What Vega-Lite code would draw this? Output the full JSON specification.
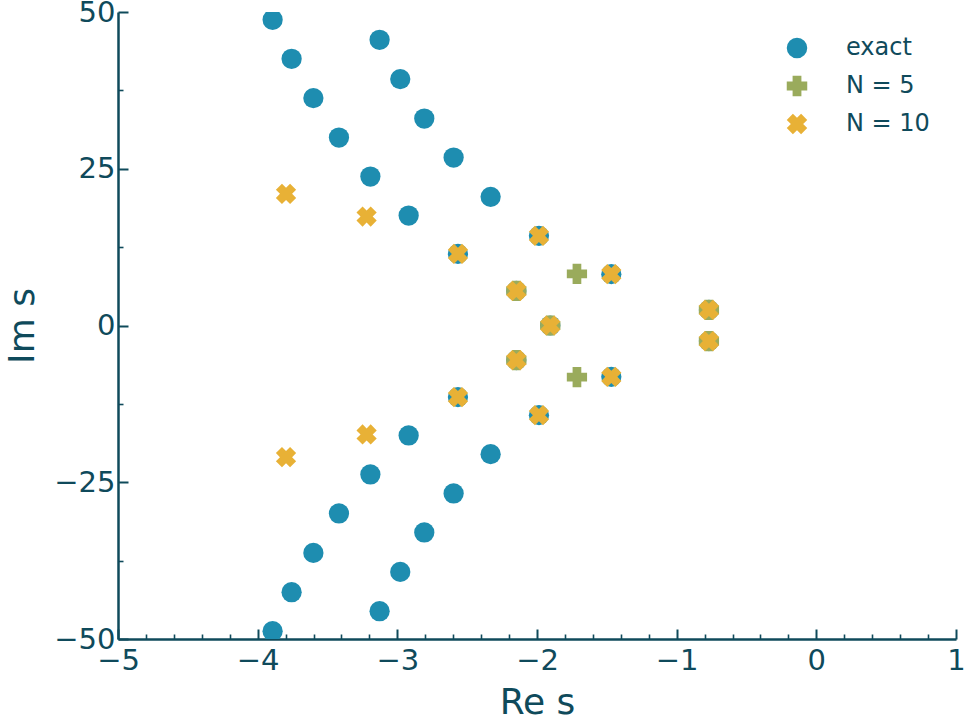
{
  "$schema": "https://vega.github.io/schema/vega-lite/v6.json",
  "width": 838,
  "height": 627,
  "autosize": {"type": "none"},
  "padding": {"left": 118, "top": 12, "right": 8, "bottom": 82},
  "background": "white",
  "config": {
    "view": {"stroke": null},
    "axis": {
      "grid": false,
      "domainColor": "#0f4a5b",
      "domainWidth": 2.5,
      "tickColor": "#0f4a5b",
      "tickWidth": 2,
      "labelFont": "DejaVu Sans",
      "labelFontSize": 29,
      "labelColor": "#0f4a5b",
      "labelFlush": false,
      "labelOverlap": false,
      "titleFont": "DejaVu Sans",
      "titleFontSize": 36,
      "titleFontWeight": "normal",
      "titleColor": "#0f4a5b"
    },
    "legend": {
      "orient": "none",
      "legendX": 667,
      "legendY": 24,
      "title": null,
      "padding": 0,
      "labelFont": "DejaVu Sans",
      "labelFontSize": 24,
      "labelColor": "#0f4a5b",
      "labelOffset": 37,
      "symbolSize": 420,
      "rowPadding": 14,
      "symbolStrokeWidth": 0,
      "symbolOpacity": 1
    }
  },
  "data": {
    "values": [
      {"series": "exact", "re": -3.893, "im": 48.76},
      {"series": "exact", "re": -3.757, "im": 42.54},
      {"series": "exact", "re": -3.601, "im": 36.27},
      {"series": "exact", "re": -3.418, "im": 29.98},
      {"series": "exact", "re": -3.193, "im": 23.76},
      {"series": "exact", "re": -2.919, "im": 17.54},
      {"series": "exact", "re": -2.566, "im": 11.42},
      {"series": "exact", "re": -2.148, "im": 5.52},
      {"series": "exact", "re": -1.905, "im": 0},
      {"series": "exact", "re": -2.148, "im": -5.52},
      {"series": "exact", "re": -2.566, "im": -11.42},
      {"series": "exact", "re": -2.919, "im": -17.54},
      {"series": "exact", "re": -3.193, "im": -23.76},
      {"series": "exact", "re": -3.418, "im": -29.98},
      {"series": "exact", "re": -3.601, "im": -36.27},
      {"series": "exact", "re": -3.757, "im": -42.54},
      {"series": "exact", "re": -3.893, "im": -48.76},
      {"series": "exact", "re": -3.258, "im": 51.8},
      {"series": "exact", "re": -3.127, "im": 45.57},
      {"series": "exact", "re": -2.979, "im": 39.3},
      {"series": "exact", "re": -2.807, "im": 33.01},
      {"series": "exact", "re": -2.597, "im": 26.79},
      {"series": "exact", "re": -2.332, "im": 20.52},
      {"series": "exact", "re": -1.986, "im": 14.3},
      {"series": "exact", "re": -1.468, "im": 8.19},
      {"series": "exact", "re": -0.769, "im": 2.49},
      {"series": "exact", "re": -0.769, "im": -2.49},
      {"series": "exact", "re": -1.468, "im": -8.19},
      {"series": "exact", "re": -1.986, "im": -14.3},
      {"series": "exact", "re": -2.332, "im": -20.52},
      {"series": "exact", "re": -2.597, "im": -26.79},
      {"series": "exact", "re": -2.807, "im": -33.01},
      {"series": "exact", "re": -2.979, "im": -39.3},
      {"series": "exact", "re": -3.127, "im": -45.57},
      {"series": "exact", "re": -3.258, "im": -51.8},
      {"series": "N = 5", "re": -0.769, "im": 2.49},
      {"series": "N = 5", "re": -0.769, "im": -2.49},
      {"series": "N = 5", "re": -1.905, "im": 0},
      {"series": "N = 5", "re": -2.148, "im": 5.52},
      {"series": "N = 5", "re": -2.148, "im": -5.52},
      {"series": "N = 5", "re": -1.714, "im": 8.23},
      {"series": "N = 5", "re": -1.714, "im": -8.23},
      {"series": "N = 10", "re": -3.797, "im": 21.0},
      {"series": "N = 10", "re": -3.797, "im": -21.0},
      {"series": "N = 10", "re": -3.22, "im": 17.38},
      {"series": "N = 10", "re": -3.22, "im": -17.38},
      {"series": "N = 10", "re": -2.566, "im": 11.42},
      {"series": "N = 10", "re": -2.566, "im": -11.42},
      {"series": "N = 10", "re": -2.148, "im": 5.52},
      {"series": "N = 10", "re": -2.148, "im": -5.52},
      {"series": "N = 10", "re": -1.905, "im": 0},
      {"series": "N = 10", "re": -1.986, "im": 14.3},
      {"series": "N = 10", "re": -1.986, "im": -14.3},
      {"series": "N = 10", "re": -1.468, "im": 8.19},
      {"series": "N = 10", "re": -1.468, "im": -8.19},
      {"series": "N = 10", "re": -0.769, "im": 2.49},
      {"series": "N = 10", "re": -0.769, "im": -2.49}
    ]
  },
  "layer": [
    {
      "mark": {"type": "point", "opacity": 0},
      "encoding": {
        "x": {
          "field": "re", "type": "quantitative",
          "scale": {"domain": [-5, 1], "nice": false, "zero": false},
          "axis": {"orient": "bottom", "values": [-4.8, -4.6, -4.4, -4.2, -3.8, -3.6, -3.4, -3.2, -2.8, -2.6, -2.4, -2.2, -1.8, -1.6, -1.4, -1.2, -0.8, -0.6, -0.4, -0.2, 0.2, 0.4, 0.6, 0.8], "labels": false, "domain": false, "tickSize": -5, "tickWidth": 1.6, "title": null}
        },
        "y": {
          "field": "im", "type": "quantitative",
          "scale": {"domain": [-50, 50], "nice": false, "zero": false},
          "axis": {"orient": "left", "values": [-37.5, -12.5, 12.5, 37.5], "labels": false, "domain": false, "tickSize": -5, "tickWidth": 1.6, "title": null}
        }
      }
    },
    {
      "mark": {"type": "point", "filled": true, "opacity": 1, "clip": true, "strokeWidth": 0},
      "encoding": {
        "x": {
          "field": "re", "type": "quantitative",
          "scale": {"domain": [-5, 1], "nice": false, "zero": false},
          "axis": {"orient": "bottom", "values": [-5, -4, -3, -2, -1, 0, 1], "tickSize": -10, "labelPadding": 17, "title": "Re s", "titlePadding": 10}
        },
        "y": {
          "field": "im", "type": "quantitative",
          "scale": {"domain": [-50, 50], "nice": false, "zero": false},
          "axis": {"orient": "left", "values": [-50, -25, 0, 25, 50], "tickSize": -10, "labelPadding": 13, "title": "Im s", "titlePadding": 12}
        },
        "color": {
          "field": "series", "type": "nominal",
          "scale": {"domain": ["exact", "N = 5", "N = 10"], "range": ["#1e8db0", "#9aab5c", "#e8b136"]}
        },
        "shape": {
          "field": "series", "type": "nominal",
          "scale": {"domain": ["exact", "N = 5", "N = 10"], "range": ["circle", "M-0.43,-1L0.43,-1L0.43,-0.43L1,-0.43L1,0.43L0.43,0.43L0.43,1L-0.43,1L-0.43,0.43L-1,0.43L-1,-0.43L-0.43,-0.43Z", "M0,-0.6L0.4,-1L1,-0.4L0.6,0L1,0.4L0.4,1L0,0.6L-0.4,1L-1,0.4L-0.6,0L-1,-0.4L-0.4,-1Z"]}
        },
        "size": {"value": 410}
      }
    }
  ],
  "resolve": {"axis": {"x": "independent", "y": "independent"}}
}
